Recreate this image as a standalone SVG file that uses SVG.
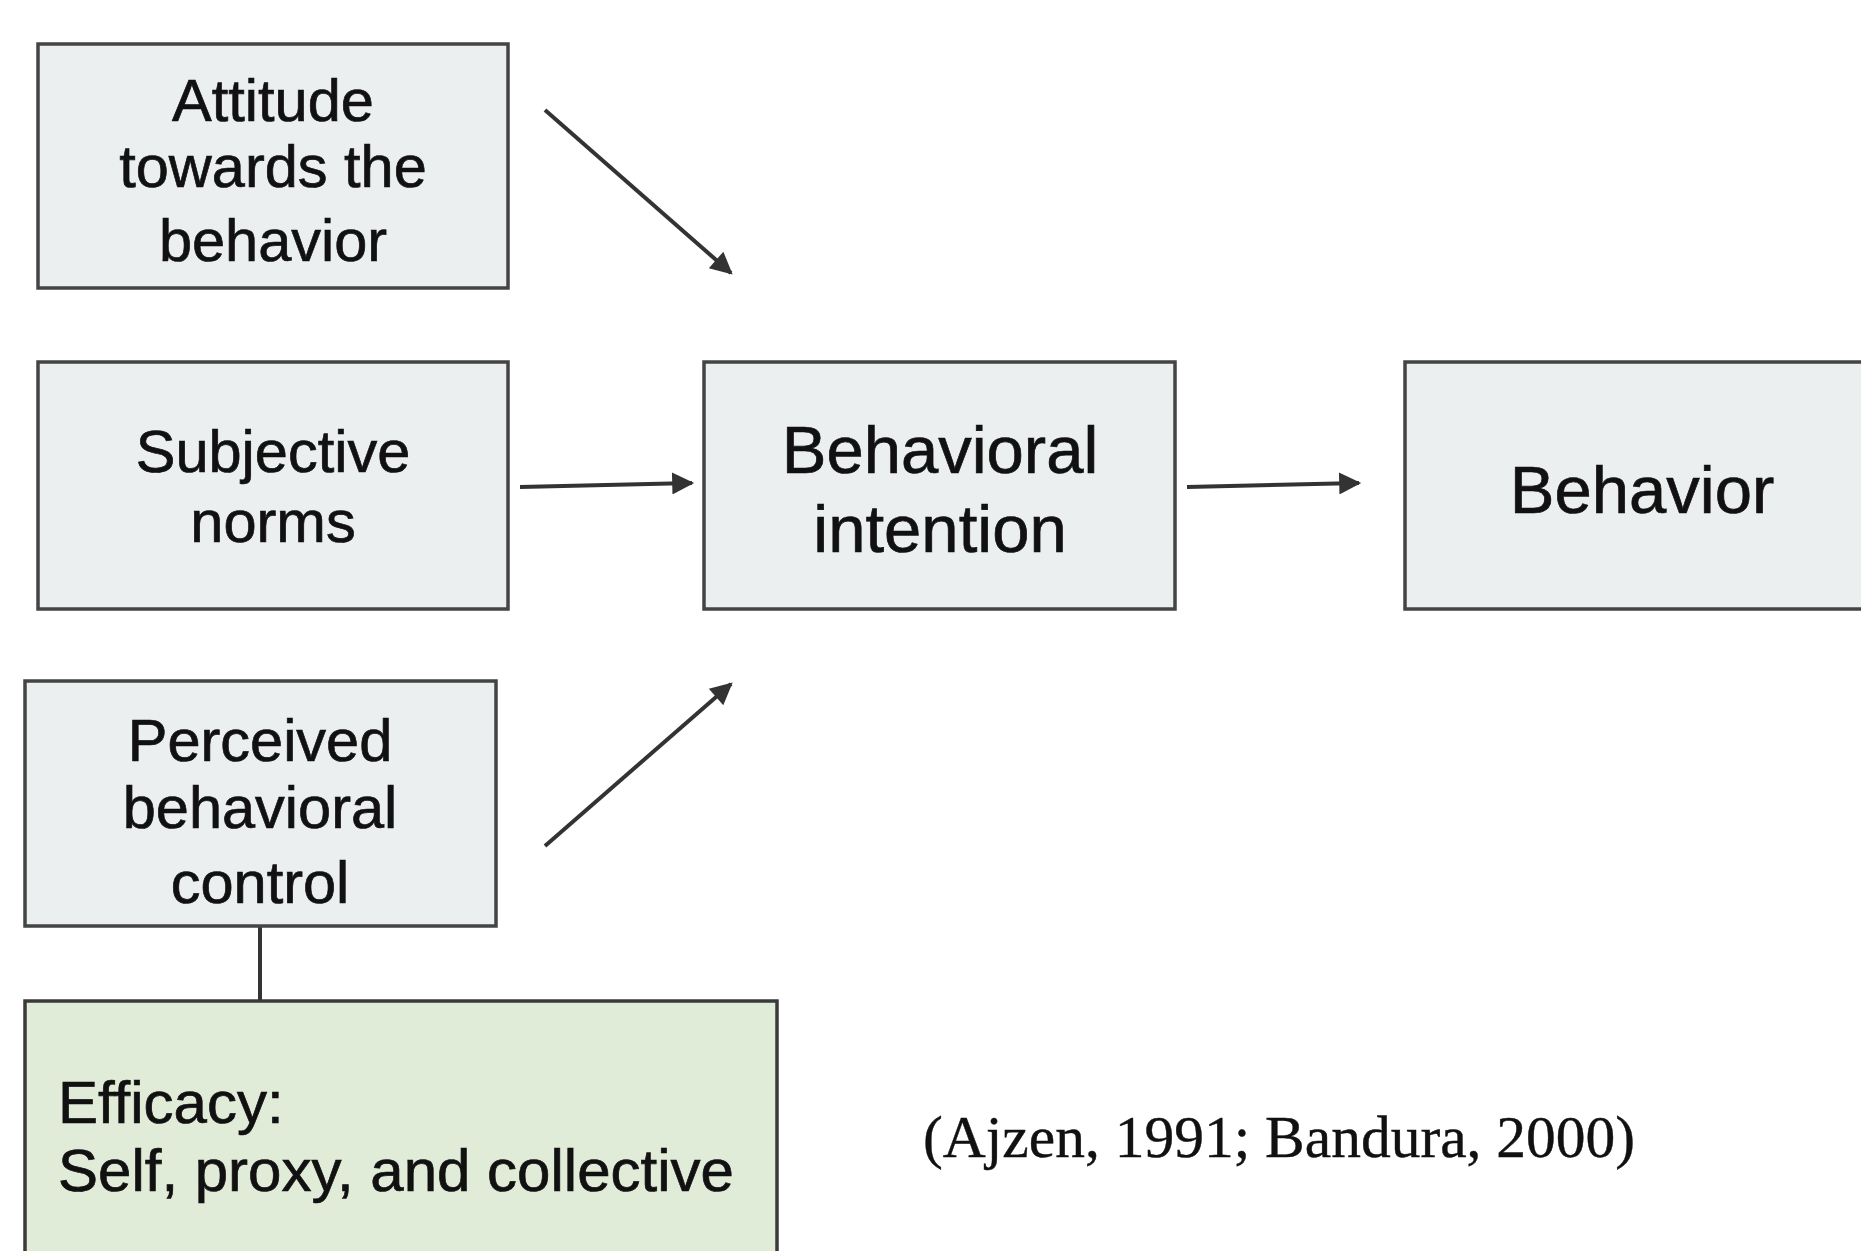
<svg xmlns="http://www.w3.org/2000/svg" width="1861" height="1251" viewBox="0 0 1861 1251">
<defs>
<style>
.box{fill:#eceff0;stroke:#444;stroke-width:3.5}
.green{fill:#e0ebd8;stroke:#3a3a3a;stroke-width:3.5}
.t{font-family:"Liberation Sans",Arial,sans-serif;font-size:59.5px;fill:#111;stroke:#111;stroke-width:0.7;text-anchor:middle}
.big{font-size:67px}
.left{text-anchor:start}
.eff{font-size:60px}
.cite{font-family:"Liberation Serif","Times New Roman",serif;font-size:59.5px;fill:#111;stroke:#111;stroke-width:0.4}
.c{stroke:#333;stroke-width:4;fill:none}
</style>
<marker id="ah" viewBox="0 0 10 10" refX="9" refY="5" markerWidth="6" markerHeight="5.5" markerUnits="strokeWidth" orient="auto">
<path d="M0,0 L10,5 L0,10 z" fill="#333"/>
</marker>
</defs>
<rect width="1861" height="1251" fill="#fff"/>
<g id="connectors">
<line class="c" x1="545" y1="110" x2="731" y2="273" marker-end="url(#ah)"/>
<line class="c" x1="520" y1="487" x2="692" y2="483" marker-end="url(#ah)"/>
<line class="c" x1="545" y1="846" x2="731" y2="684" marker-end="url(#ah)"/>
<line class="c" x1="1187" y1="487" x2="1359" y2="483" marker-end="url(#ah)"/>
<line class="c" x1="260" y1="926" x2="260" y2="1002"/>
</g>
<g id="attitude">
<rect class="box" x="38" y="44" width="470" height="244"/>
<text class="t" x="273" y="121">Attitude</text>
<text class="t" x="273" y="187">towards the</text>
<text class="t" x="273" y="261">behavior</text>
</g>
<g id="subjective">
<rect class="box" x="38" y="362" width="470" height="247"/>
<text class="t" x="273" y="472">Subjective</text>
<text class="t" x="273" y="542">norms</text>
</g>
<g id="perceived">
<rect class="box" x="25" y="681" width="471" height="245"/>
<text class="t" x="260" y="761">Perceived</text>
<text class="t" x="260" y="828">behavioral</text>
<text class="t" x="260" y="903">control</text>
</g>
<g id="efficacy">
<rect class="green" x="25" y="1001" width="752" height="280"/>
<text class="t left eff" x="58" y="1123">Efficacy:</text>
<text class="t left eff" x="58" y="1191">Self, proxy, and collective</text>
</g>
<g id="intention">
<rect class="box" x="704" y="362" width="471" height="247"/>
<text class="t big" x="940" y="473">Behavioral</text>
<text class="t big" x="940" y="552">intention</text>
</g>
<g id="behavior">
<rect class="box" x="1405" y="362" width="480" height="247"/>
<text class="t big" x="1642" y="513">Behavior</text>
</g>
<g id="citation">
<text class="cite" x="923" y="1157">(Ajzen, 1991; Bandura, 2000)</text>
</g>
</svg>
